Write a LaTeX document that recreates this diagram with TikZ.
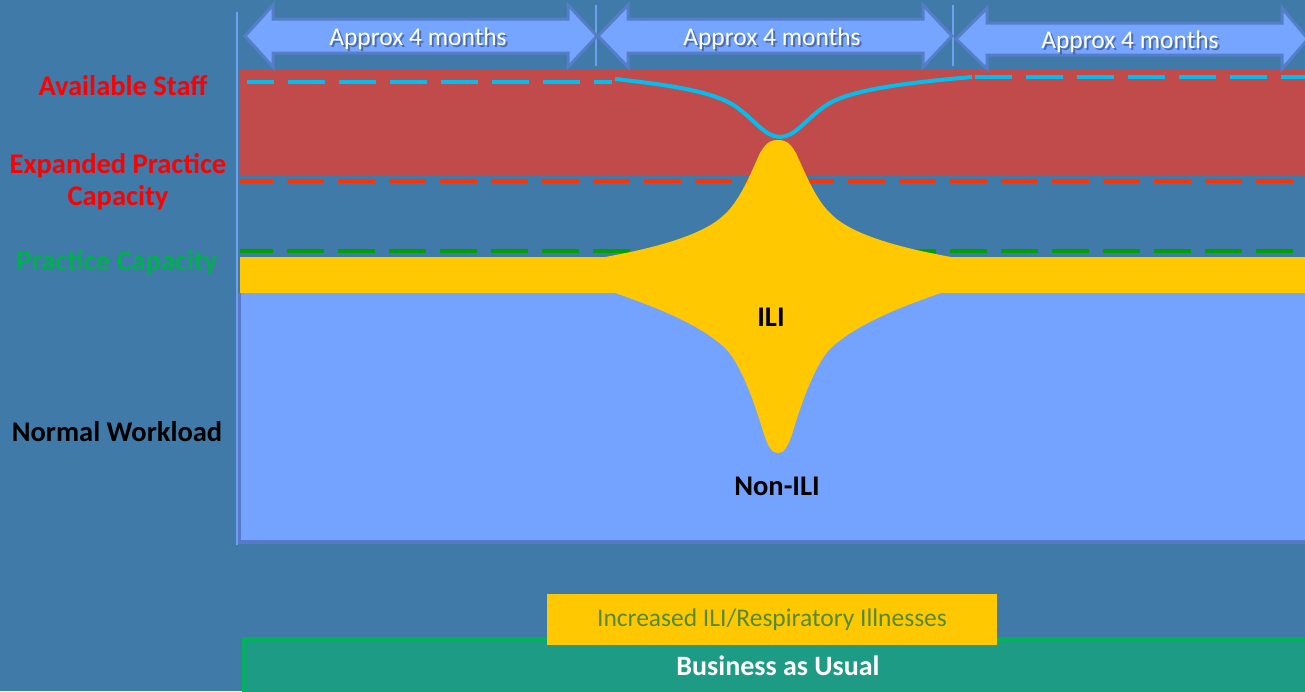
\documentclass[tikz,border=0pt]{standalone}
\usepackage{fontspec}
\setmainfont{Carlito}
\begin{document}
\begin{tikzpicture}[x=1pt,y=-1pt]
\definecolor{bg}{RGB}{64,122,168}
\definecolor{staffred}{RGB}{193,74,74}
\definecolor{lblue}{RGB}{116,162,255}
\definecolor{lbborder}{RGB}{86,122,200}
\definecolor{ili}{RGB}{255,200,0}
\definecolor{cyanl}{RGB}{0,190,240}
\definecolor{reddash}{RGB}{255,50,0}
\definecolor{greendash}{RGB}{0,160,0}
\definecolor{labred}{RGB}{255,0,0}
\definecolor{labgreen}{RGB}{0,176,80}
\definecolor{arrfill}{RGB}{117,165,255}
\definecolor{arrborder}{RGB}{86,125,200}
\definecolor{baufill}{RGB}{30,155,133}
\definecolor{bauborder}{RGB}{0,180,90}
\definecolor{olive}{RGB}{84,138,50}
\definecolor{sepline}{RGB}{110,160,240}
\tikzset{
  dblarrow/.style={fill=arrfill,draw=arrborder,line width=3pt,line join=miter},
  apx/.style={text=white,font=\fontsize{25.5}{30}\selectfont,inner sep=0pt},
  apxshadow/.style={text=black,opacity=0.35,font=\fontsize{25.5}{30}\selectfont,inner sep=0pt},
  dashline/.style={line width=4pt,dash pattern=on 37pt off 14pt},
  leftlab/.style={font=\bfseries\fontsize{28.5}{32}\selectfont,align=center,inner sep=0pt},
  innerlab/.style={font=\bfseries\fontsize{28.5}{32}\selectfont,inner sep=0pt},
}
\useasboundingbox (0,0) rectangle (1305,691);
\fill[bg] (0,0) rectangle (1305,691);
% bands
\fill[staffred] (240,69) rectangle (1305,176);
\fill[lblue] (240,293) rectangle (1305,540);
\draw[lbborder,line width=4pt] (239,293) -- (239,542) -- (1305,542);
\fill[ili] (240,257) rectangle (1305,293);
% dashed capacity lines
\draw[dashline,reddash,dash phase=4pt] (240,180.5) -- (1305,180.5);
\draw[dashline,greendash,dash phase=4pt] (240,251) -- (1305,251);
% ILI peak
\fill[ili] (605,257) .. controls (660,247) and (705,234) .. (725,214)
  .. controls (740,200) and (750,175) .. (760,153)
  .. controls (767,141) and (772,140) .. (778,140)
  .. controls (784,140) and (789,141) .. (796,153)
  .. controls (806,175) and (816,200) .. (831,214)
  .. controls (851,234) and (896,247) .. (951,257)
  -- (941,293)
  .. controls (891,310) and (851,328) .. (829,350)
  .. controls (816,365) and (804,395) .. (794,428)
  .. controls (788,448) and (784,453) .. (778,453)
  .. controls (772,453) and (768,448) .. (762,428)
  .. controls (752,395) and (740,365) .. (727,350)
  .. controls (705,328) and (665,310) .. (615,293) -- cycle;
% available staff line
\draw[dashline,cyanl,dash phase=10pt] (247,82) -- (612,82);
\draw[cyanl,line width=4pt] (615,79) .. controls (680,86) and (715,93) .. (735,106)
  .. controls (755,120) and (765,137) .. (780,137)
  .. controls (795,137) and (805,120) .. (825,106)
  .. controls (845,92) and (890,84) .. (972,77);
\draw[dashline,cyanl] (975,77) -- (1305,77);
% separators
\draw[sepline,line width=1.5pt] (237,12) -- (237,545);
\draw[sepline,line width=1.5pt] (596,5) -- (596,66);
\draw[sepline,line width=1.5pt] (953,5) -- (953,66);
% arrows
\draw[dblarrow] (245,36) -- (273,5) -- (273,19) -- (568,19) -- (568,5) -- (597,36) -- (568,67) -- (568,53) -- (273,53) -- (273,67) -- cycle;
\draw[dblarrow] (598,36) -- (628,5) -- (628,19) -- (923,19) -- (923,5) -- (952,36) -- (923,67) -- (923,53) -- (628,53) -- (628,67) -- cycle;
\draw[dblarrow] (956,39) -- (987,8) -- (987,23) -- (1282,23) -- (1282,8) -- (1308,39) -- (1282,69) -- (1282,55) -- (987,55) -- (987,69) -- cycle;
\node[apxshadow] (a1s) at (420,41) {Approx 4 months};
\node[apx] (a1) at (418,39) {Approx 4 months};
\node[apxshadow] (a2s) at (774,41) {Approx 4 months};
\node[apx] (a2) at (772,39) {Approx 4 months};
\node[apxshadow] (a3s) at (1132,44) {Approx 4 months};
\node[apx] (a3) at (1130,42) {Approx 4 months};
% left labels
\node[leftlab,text=labred] (staff) at (123,86) {Available Staff};
\node[leftlab,text=labred] (exp) at (118,182) {Expanded Practice\\Capacity};
\node[leftlab,text=labgreen] (prac) at (117,263) {Practice Capacity};
\node[leftlab,text=black] (norm) at (117,432) {Normal Workload};
% inner labels
\node[innerlab] (ililab) at (771,317) {ILI};
\node[innerlab] (nonili) at (777,486) {Non-ILI};
% bottom boxes
\draw[fill=baufill,draw=bauborder,line width=4pt] (244,639) rectangle (1312,693);
\node[font=\bfseries\fontsize{28}{32}\selectfont,text=white,inner sep=0pt] (bau) at (778,666) {Business as Usual};
\node[fill=ili,minimum width=450pt,minimum height=51pt,inner sep=0pt,text=olive,font=\fontsize{25.5}{30}\selectfont] (incr) at (772,619.5) {Increased ILI/Respiratory Illnesses};
\end{tikzpicture}
\end{document}
